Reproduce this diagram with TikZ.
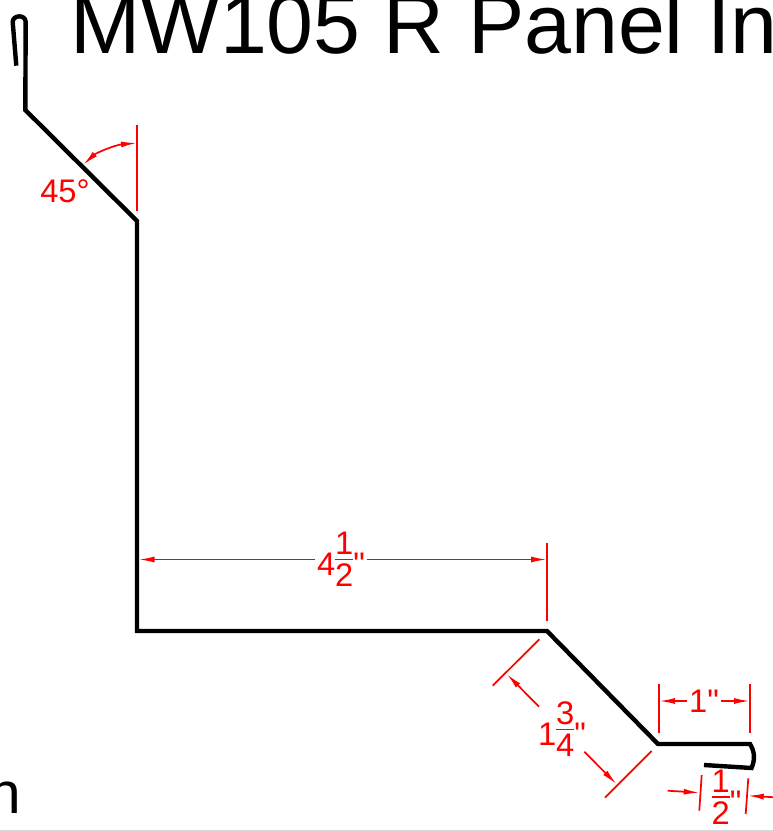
\documentclass[tikz,border=0pt]{standalone}
\usepackage{fontspec}
\setmainfont{Liberation Sans}[Ligatures=TeXOff]
\usetikzlibrary{arrows.meta}
\newcommand{\dimfrac}[2]{\raisebox{5.9pt}{$\vcenter{\offinterlineskip\halign{\hfil##\hfil\cr #1\cr\noalign{\kern2.9pt\hrule height 1.1pt\kern2.9pt}#2\cr}}$}}
\begin{document}
\begin{tikzpicture}[x=0.75pt,y=-0.75pt,>={Latex[length=12pt,width=4.5pt]}]
    \tikzstyle{panel}=[draw=black,line width=3.3pt,line join=miter]
    \tikzstyle{dimline}=[draw=red,line width=1.3pt]
    \tikzstyle{dimtext}=[text=red,inner ysep=0pt,inner xsep=1.5pt,font=\fontsize{24.5}{24.5}\selectfont]
    \tikzstyle{heading}=[text=black,inner sep=0pt,anchor=base west,font=\fontsize{63.2}{63.2}\selectfont]

    \useasboundingbox (0,0) rectangle (773,831);
    \clip (0,0) rectangle (773,831);

    % panel profile points
    \coordinate (P-1) at (16.3,65.7);
    \coordinate (P-2) at (25.3,110);
    \coordinate (P-3) at (137,221);
    \coordinate (P-4) at (137,631);
    \coordinate (P-5) at (547,631);
    \coordinate (P-6) at (658,744);
    \coordinate (P-7) at (750,744);
    \coordinate (P-8) at (751.5,768);
    \coordinate (P-9) at (704,765);

    % heading and cut off word
    \node[heading] (title) at (70,54) {MW105 R Panel In};
    \node[heading,font=\fontsize{44}{44}\selectfont] (word) at (-11.7,813.5) {n};

    % panel
    \path[panel] (P-1) -- (12.7,22) .. controls (12.5,15) and (25.5,14) .. (25.7,22) -- (P-2)
        -- (P-3) -- (P-4) -- (P-5) -- (P-6) -- (P-7)
        .. controls (755,752) and (755,760) .. (P-8) -- (P-9);

    % dimension labels
    \node[dimtext] (angle) at (65,191) {45°};
    \node[dimtext] (wide) at (341,559.5) {4\dimfrac{1}{2}"};
    \node[dimtext] (slope) at (562,729) {1\dimfrac{3}{4}"};
    \node[dimtext] (flat) at (704,701) {1"};
    \node[dimtext] (hem) at (726.5,797) {\dimfrac{1}{2}"};

    % extension lines
    \foreach \a/\b/\c/\d in {137/125/137/211, 547/543/547/621, 539.3/639.3/492.7/685.7,
        651.7/751/605/797.7, 659/684/659/733, 750/684/750/733,
        701.7/775/699.3/810.7, 748.3/778.3/745.7/814}
    \path[dimline] (\a,\b) -- (\c,\d);

    % arrow ends of the dimension lines
    \coordinate (wide-l) at (138.5,559.5);
    \coordinate (wide-r) at (547,559.5);
    \coordinate (slope-a) at (539,706.7);
    \coordinate (slope-b) at (506.7,674);
    \coordinate (slope-c) at (584.3,751.7);
    \coordinate (slope-d) at (616.7,784.3);
    \coordinate (flat-l) at (659,701);
    \coordinate (flat-r) at (750,701);
    \coordinate (hem-a) at (667.7,790.7);
    \coordinate (hem-b) at (699.7,792.7);
    \coordinate (hem-c) at (775,797.3);
    \coordinate (hem-d) at (747.7,795.7);

    % arrows
    \path[dimline,->] (wide.west) -- (wide-l);
    \path[dimline,->] (wide.east) -- (wide-r);
    \path[dimline,->] (slope-a) -- (slope-b);
    \path[dimline,->] (slope-c) -- (slope-d);
    \path[dimline,->] (flat.west) -- (flat-l);
    \path[dimline,->] (flat.east) -- (flat-r);
    \path[dimline,->] (hem-a) -- (hem-b);
    \path[dimline,->] (hem-c) -- (hem-d);
    \path[dimline,<->] (83,165) .. controls (96,153) and (115,145) .. (137,143);

    % strip at the bottom edge
    \path[draw=black!15,line width=0.75pt] (0,830) -- (773,830);
  \end{tikzpicture}
\end{document}
